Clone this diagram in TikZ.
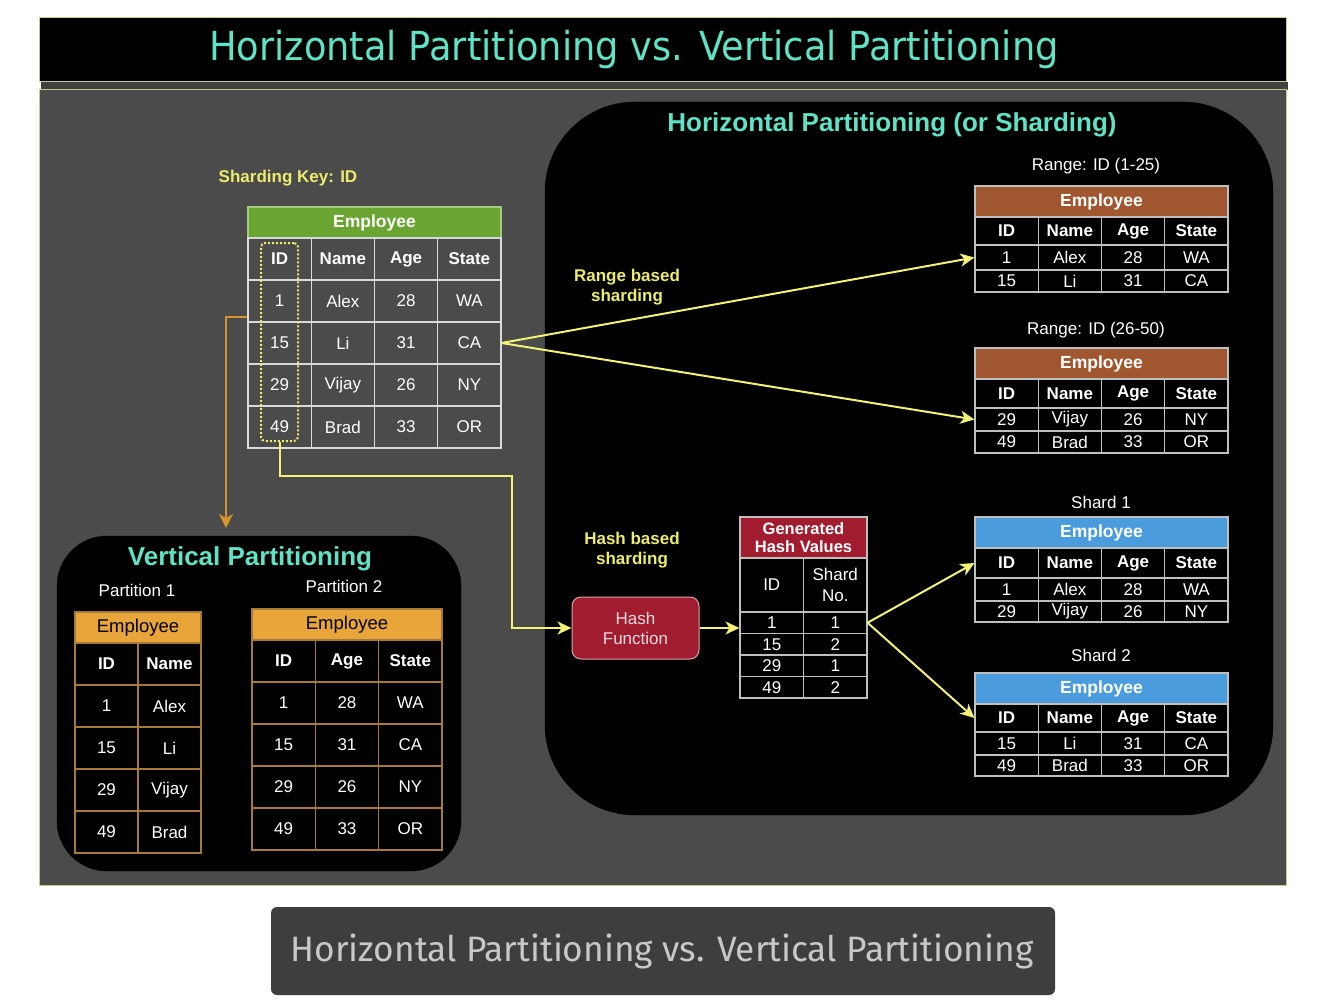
\documentclass[tikz,border=0pt]{standalone}
\usepackage{fontspec}
\setmainfont{Liberation Sans}
\newfontfamily\titlefont{DejaVu Sans}
\newfontfamily\capfont{Fira Sans}
\usetikzlibrary{arrows.meta}
\definecolor{panel}{HTML}{4B4B4B}
\definecolor{turq}{HTML}{5FE3C4}
\definecolor{yel}{HTML}{ECEC6C}
\definecolor{arrowyel}{HTML}{F2F276}
\definecolor{olive}{HTML}{C8C890}
\definecolor{hgreen}{HTML}{6AA532}
\definecolor{hbrown}{HTML}{A0562F}
\definecolor{hblue}{HTML}{4B9CDC}
\definecolor{horange}{HTML}{E8A53A}
\definecolor{hred}{HTML}{A01C2E}
\definecolor{oline}{HTML}{D4952E}
\definecolor{pline}{HTML}{A87A38}
\definecolor{capbg}{HTML}{3E3E3E}
\definecolor{captx}{HTML}{C8C8C8}
\newcommand{\fs}[1]{\fontsize{#1}{#1}\selectfont}
\def\cw{63.25}
\newcommand{\trow}[6]{%
  \pgfmathsetmacro{\rh}{#4-#3}%
  \pgfmathsetmacro{\rc}{(#3+#4)/2}%
  \foreach \t [count=\i] in {#6} {%
    \pgfmathsetmacro{\cx}{#2+(\i-0.5)*\cw}%
    \node[#5, minimum height=\rh pt] (#1-\i) at (\cx,\rc) {\t};
  }%
}
\newcommand{\thdr}[7]{% name, x0, ytop, ybot, ncols, fill, style
  \pgfmathsetmacro{\rh}{#4-#3}%
  \pgfmathsetmacro{\rc}{(#3+#4)/2}%
  \pgfmathsetmacro{\rw}{#5*\cw}%
  \pgfmathsetmacro{\cx}{#2+#5*\cw/2}%
  \node[#7, fill=#6, minimum width=\rw pt, minimum height=\rh pt] (#1) at (\cx,\rc) {Employee};
}
\tikzset{
  cellw/.style={draw=#1, line width=1.1pt, minimum width=\cw pt, inner sep=0pt, text=white, font=\fs{17}, align=center},
  cellb/.style={cellw=#1, font=\fs{17}\bfseries},
  hdrw/.style={draw=#1, line width=1.1pt, inner sep=0pt, text=white, font=\fs{17.5}\bfseries},
  lbl/.style={text=white, font=\fs{17}, inner sep=0pt},
  ylbl/.style={text=yel, font=\fs{17}\bfseries, align=center, inner sep=0pt},
  yarrow/.style={draw=arrowyel, line width=2pt, -{Stealth[length=14pt,width=13pt,inset=4pt]}},
}
\begin{document}
\begin{tikzpicture}[x=1pt,y=-1pt]
\useasboundingbox (0,0) rectangle (1338,1006);
\fill[white] (0,0) rectangle (1338,1006);
% title bar
\fill[panel!85!black] (41,82) rectangle (1288,90);
\node[draw=olive, line width=1pt, fill=black, minimum width=1247pt, minimum height=64pt, inner sep=0pt] (titlebar) at (662.5,50) {};
\node[text=turq, inner sep=0pt] (title) at (634,49) {\scalebox{0.92}[1]{\titlefont\fs{40}Horizontal Partitioning vs. Vertical Partitioning}};
% main panel
\node[draw=olive, line width=1pt, fill=panel, minimum width=1247pt, minimum height=795pt, inner sep=0pt] (main) at (662.5,487.5) {};
% caption
\node[fill=capbg, rounded corners=6pt, minimum width=784pt, minimum height=88pt, inner sep=0pt] (capbox) at (663,951) {};
\node[text=captx, inner sep=0pt] (captxt) at (662,951) {\capfont\fs{35.3}Horizontal Partitioning vs. Vertical Partitioning};
% black boxes
\draw[fill=black, rounded corners=90pt] (545,102) rectangle (1273,815);
\coordinate (hpbox) at (909,458);
\draw[fill=black, rounded corners=50pt] (57,536) rectangle (461,871);
\coordinate (vpbox) at (259,703);
\node[text=turq, font=\fs{26}\bfseries, inner sep=0pt] (hptitle) at (892,125) {Horizontal Partitioning (or Sharding)};
\node[text=turq, font=\fs{26}\bfseries, inner sep=0pt] (vptitle) at (250,559) {Vertical Partitioning};
\node[lbl] (part1) at (137,590) {Partition 1};
\node[lbl] (part2) at (344,586) {Partition 2};
% labels
\node[ylbl] (shkey) at (288,178) {Sharding Key: ID};
\node[ylbl] (rangelbl) at (627,287) {Range based\\[3pt]sharding};
\node[ylbl] (hashlbl) at (632,550) {Hash based\\[3pt]sharding};
\node[lbl] (rl1) at (1096,166) {Range: ID (1-25)};
\node[lbl] (rl2) at (1096,330) {Range: ID (26-50)};
\node[lbl] (sl1) at (1101,502) {Shard 1};
\node[lbl] (sl2) at (1101,655) {Shard 2};
% main table
\def\cw{63.25}
\thdr{m-h}{248}{207}{238}{4}{hgreen}{hdrw=hgreen!60!white}
\trow{m-0}{248}{238}{280}{cellb=white!85!black}{ID,Name,Age,State}
\trow{m-1}{248}{280}{322}{cellw=white!85!black}{1,Alex,28,WA}
\trow{m-2}{248}{322}{364}{cellw=white!85!black}{15,Li,31,CA}
\trow{m-3}{248}{364}{406}{cellw=white!85!black}{29,Vijay,26,NY}
\trow{m-4}{248}{406}{448}{cellw=white!85!black}{49,Brad,33,OR}
\node[draw=yel, dotted, line width=2pt, rounded corners=4pt, minimum width=37pt, minimum height=198pt, inner sep=0pt] (idbox) at (279.5,342) {};
% range tables
\thdr{r1-h}{975}{186}{217}{4}{hbrown}{hdrw=white!75!black}
\trow{r1-0}{975}{217}{245}{cellb=white!75!black}{ID,Name,Age,State}
\trow{r1-1}{975}{245}{270}{cellw=white!75!black}{1,Alex,28,WA}
\trow{r1-2}{975}{270}{292}{cellw=white!75!black}{15,Li,31,CA}
\thdr{r2-h}{975}{348}{379}{4}{hbrown}{hdrw=white!75!black}
\trow{r2-0}{975}{379}{408}{cellb=white!75!black}{ID,Name,Age,State}
\trow{r2-1}{975}{408}{431}{cellw=white!75!black}{29,Vijay,26,NY}
\trow{r2-2}{975}{431}{453}{cellw=white!75!black}{49,Brad,33,OR}
% shard tables
\thdr{s1-h}{975}{517}{548}{4}{hblue}{hdrw=white!75!black}
\trow{s1-0}{975}{548}{578}{cellb=white!75!black}{ID,Name,Age,State}
\trow{s1-1}{975}{578}{601}{cellw=white!75!black}{1,Alex,28,WA}
\trow{s1-2}{975}{601}{622}{cellw=white!75!black}{29,Vijay,26,NY}
\thdr{s2-h}{975}{673}{704}{4}{hblue}{hdrw=white!75!black}
\trow{s2-0}{975}{704}{732}{cellb=white!75!black}{ID,Name,Age,State}
\trow{s2-1}{975}{732}{755}{cellw=white!75!black}{15,Li,31,CA}
\trow{s2-2}{975}{755}{776}{cellw=white!75!black}{49,Brad,33,OR}
% hash table
\def\cw{63.5}
\node[hdrw=white!75!black, fill=hred, minimum width=127pt, minimum height=41pt, align=center, font=\fs{16.5}\bfseries] (ht-h) at (803.5,537.5) {Generated\\[1pt]Hash Values};
\trow{ht-0}{740}{558}{612}{cellw=white!75!black}{ID,{Shard\\[4pt]No.}}
\trow{ht-1}{740}{612}{633.5}{cellw=white!75!black}{1,1}
\trow{ht-2}{740}{633.5}{655}{cellw=white!75!black}{15,2}
\trow{ht-3}{740}{655}{676.5}{cellw=white!75!black}{29,1}
\trow{ht-4}{740}{676.5}{698}{cellw=white!75!black}{49,2}
% hash function
\node[draw=hred!40!white, line width=1pt, fill=hred, rounded corners=9pt, minimum width=127pt, minimum height=62pt, align=center, text=hred!15!white, font=\fs{17}] (hf) at (635.5,628) {Hash\\[3pt]Function};
% partition tables
\def\cw{63}
\thdr{p1-h}{75}{612}{643}{2}{horange}{hdrw=pline, text=black, font=\fs{18.5}}
\trow{p1-0}{75}{643}{685}{cellb=pline}{ID,Name}
\trow{p1-1}{75}{685}{727}{cellw=pline}{1,Alex}
\trow{p1-2}{75}{727}{769}{cellw=pline}{15,Li}
\trow{p1-3}{75}{769}{811}{cellw=pline}{29,Vijay}
\trow{p1-4}{75}{811}{853}{cellw=pline}{49,Brad}
\def\cw{63.33}
\thdr{p2-h}{252}{609}{640}{3}{horange}{hdrw=pline, text=black, font=\fs{18.5}}
\trow{p2-0}{252}{640}{682}{cellb=pline}{ID,Age,State}
\trow{p2-1}{252}{682}{724}{cellw=pline}{1,28,WA}
\trow{p2-2}{252}{724}{766}{cellw=pline}{15,31,CA}
\trow{p2-3}{252}{766}{808}{cellw=pline}{29,26,NY}
\trow{p2-4}{252}{808}{850}{cellw=pline}{49,33,OR}
% connectors
\coordinate (ostart) at ([yshift=-16pt]m-1-1.west);
\coordinate (oend) at (226,528);
\draw[draw=oline, line width=2.5pt, -{Stealth[length=14pt,width=14pt,inset=4pt]}] (ostart) -| (oend);
\draw[yarrow] (m-2-4.east) -- (r1-1-1.west);
\draw[yarrow] (m-2-4.east) -- (r2-1-1.west);
\coordinate (bend) at (512,476);
\draw[yarrow] (idbox.south) |- (bend) |- (hf.west);
\draw[yarrow] (hf.east) -- (hf.east -| ht-1-1.west);
\draw[yarrow] (ht-1-2.east) -- (s1-0-1.west);
\draw[yarrow] (ht-1-2.east) -- (s2-0-1.west);
\end{tikzpicture}
\end{document}
